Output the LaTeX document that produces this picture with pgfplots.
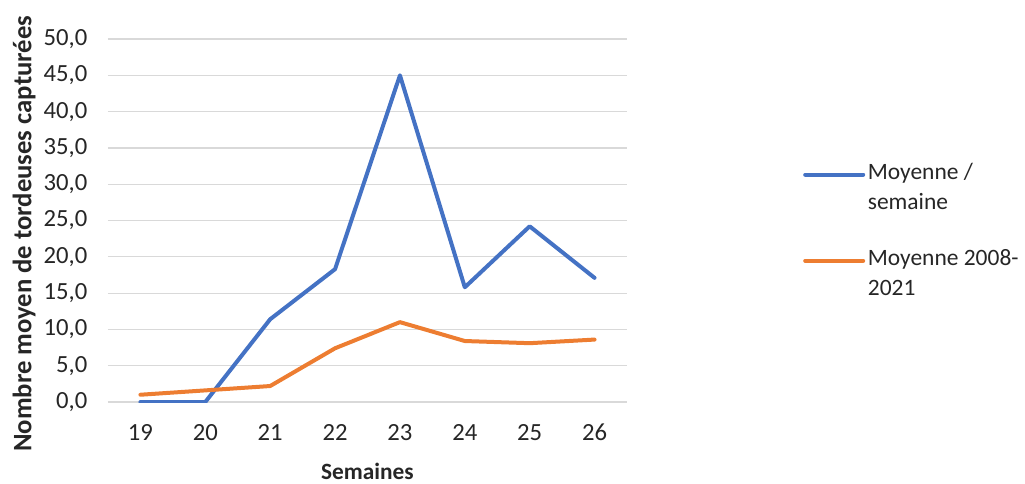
\documentclass[border=0pt]{standalone}
\usepackage{fontspec}
\setmainfont{Carlito}
\usepackage{pgfplots}
\pgfplotsset{compat=1.18}
\definecolor{xlblue}{HTML}{4472C4}
\definecolor{xlorange}{HTML}{ED7D31}
\definecolor{xlgrid}{HTML}{D9D9D9}
\definecolor{xltext}{HTML}{262626}
\begin{document}
\begin{tikzpicture}
  % 1 px of the reference = 0.75pt
  \useasboundingbox (-81pt,-60.75pt) rectangle (687.75pt,301.5pt);
  \begin{axis}[
    scale only axis,
    width=389.25pt, height=272.25pt,
    at={(0,0)}, anchor=south west,
    xmin=18.5, xmax=26.5,
    ymin=0, ymax=50,
    xtick={19,...,26},
    xticklabels={19,20,21,22,23,24,25,26},
    ytick={0,5,...,50},
    axis line style={draw=none},
    major tick length=0pt,
    ymajorgrids,
    major grid style={xlgrid, line width=0.9pt},
    font=\fontsize{18.5}{22.5}\selectfont,
    tick label style={text=xltext},
    /pgf/number format/.cd, fixed, fixed zerofill, precision=1, use comma,
      assume math mode=true,
    /pgfplots/.cd,
    xticklabel style={yshift=-13pt},
    yticklabel style={xshift=-12pt},
    xlabel={\fontsize{17.5}{21}\selectfont\bfseries Semaines},
    ylabel={\fontsize{20}{24}\selectfont\bfseries Nombre moyen de tordeuses capturées},
    every axis x label/.style={at={(axis description cs:0.5,0)}, anchor=north, yshift=-42pt, text=xltext},
    every axis y label/.style={at={([xshift=-63pt,yshift=-10pt]axis description cs:0,0.5)}, rotate=90, anchor=center, text=xltext},
    legend style={at={(axis description cs:1.339,0.6655)}, anchor=north west,
      draw=none, fill=none, inner sep=0pt, row sep=24.5pt,
      cells={anchor=west, align=left}, text=xltext,
      font=\fontsize{17.6}{22.5}\selectfont},
    legend image code/.code={\draw[#1] (0pt,9.75pt) -- (43.5pt,9.75pt);},
  ]
    \addplot[xlblue, line width=3pt, line join=round, line cap=round]
      coordinates {(19,0) (20,0) (21,11.4) (22,18.3) (23,45.0) (24,15.8) (25,24.2) (26,17.1)};
    \addplot[xlorange, line width=3pt, line join=round, line cap=round]
      coordinates {(19,1.0) (20,1.6) (21,2.2) (22,7.4) (23,11.0) (24,8.4) (25,8.1) (26,8.6)};
    \legend{Moyenne /\\semaine, Moyenne 2008-\\2021}
  \end{axis}
\end{tikzpicture}
\end{document}
